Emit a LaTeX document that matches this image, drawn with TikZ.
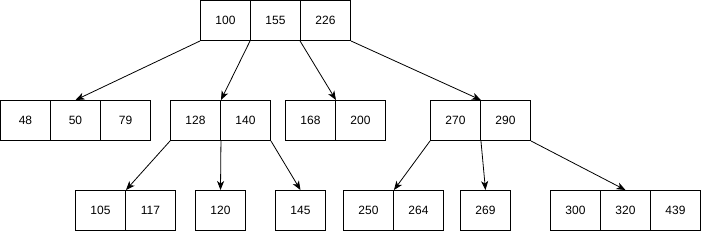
\documentclass[tikz,border=0pt]{standalone}
\usepackage{fontspec}
\setmainfont{Liberation Sans}
\usetikzlibrary{arrows.meta}
\begin{document}
\begin{tikzpicture}[x=1pt,y=-1pt,
  cell/.style={draw,line width=0.9pt,minimum width=50pt,minimum height=40pt,inner sep=0pt,font=\fontsize{12}{14}\selectfont},
  link/.style={line width=0.8pt,-{Stealth[length=9pt,width=7pt,inset=2.5pt]}}]
\useasboundingbox (0,0) rectangle (701,231);
% root
\node[cell] (r1) at (225.5,20.5) {100};
\node[cell] (r2) at (275.5,20.5) {155};
\node[cell] (r3) at (325.5,20.5) {226};
% level 2
\node[cell] (a1) at (25.5,120.5) {48};
\node[cell] (a2) at (75.5,120.5) {50};
\node[cell] (a3) at (125.5,120.5) {79};
\node[cell] (b1) at (195.5,120.5) {128};
\node[cell] (b2) at (245.5,120.5) {140};
\node[cell] (c1) at (310.5,120.5) {168};
\node[cell] (c2) at (360.5,120.5) {200};
\node[cell] (d1) at (455.5,120.5) {270};
\node[cell] (d2) at (505.5,120.5) {290};
% level 3
\node[cell] (e1) at (100.5,210.5) {105};
\node[cell] (e2) at (150.5,210.5) {117};
\node[cell] (f) at (220.5,210.5) {120};
\node[cell] (g) at (300.5,210.5) {145};
\node[cell] (h1) at (368.5,210.5) {250};
\node[cell] (h2) at (418.5,210.5) {264};
\node[cell] (i) at (485.5,210.5) {269};
\node[cell] (j1) at (575.5,210.5) {300};
\node[cell] (j2) at (625.5,210.5) {320};
\node[cell] (j3) at (675.5,210.5) {439};
% connectors
\draw[link] (r1.south west) -- (a2.north);
\draw[link] (r2.south west) -- (b1.north east);
\draw[link] (r3.south west) -- (c1.north east);
\draw[link] (r3.south east) -- (d1.north east);
\draw[link] (b1.south west) -- (e1.north east);
\draw[link] (b1.south east) -- (f.north);
\draw[link] (b2.south east) -- (g.north);
\draw[link] (d1.south west) -- (h1.north east);
\draw[link] (d1.south east) -- (i.north);
\draw[link] (d2.south east) -- (j2.north);
\end{tikzpicture}
\end{document}
